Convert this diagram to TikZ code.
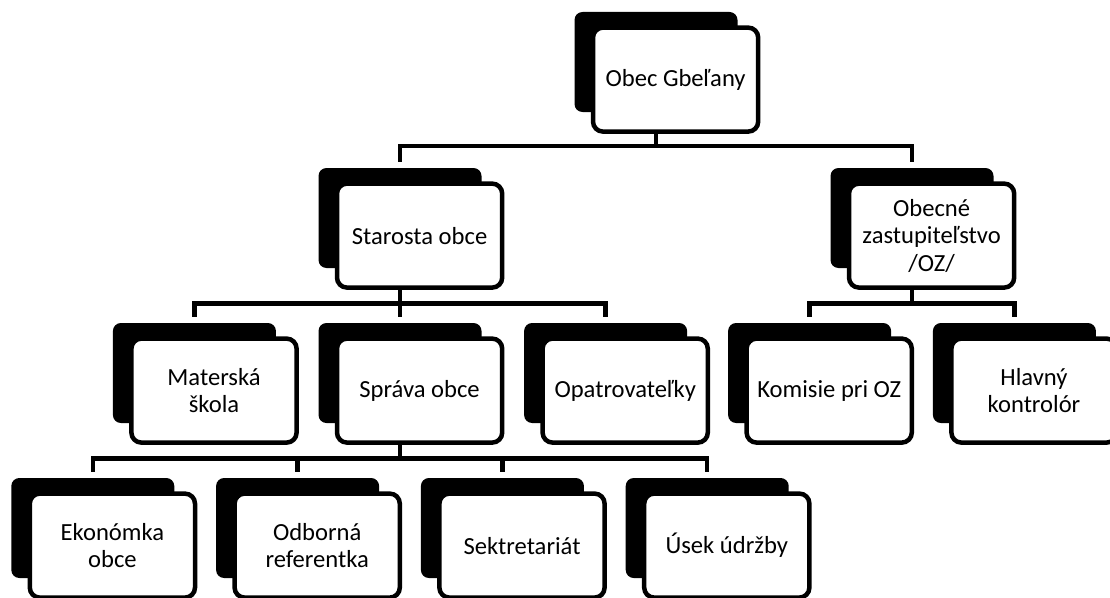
\documentclass[tikz,border=0pt]{standalone}
\usepackage{fontspec}
\setmainfont{Carlito}
\usetikzlibrary{positioning}

\begin{document}
\begin{tikzpicture}
[shd/.style={fill=black,rounded corners=0.2cm,minimum width=4.075cm,minimum height=2.5cm,inner sep=0mm,outer sep=0.15cm},
 box/.style={draw=black,fill=white,line width=3.2pt,rounded corners=0.25cm,minimum width=4.13cm,minimum height=2.6cm,
             inner sep=0mm,align=center,font=\fontsize{17.5}{19.5}\selectfont},
 conn/.style={line width=3.2pt}]
\useasboundingbox (0,0) rectangle (27.75,-14.925);
% shadows
\node[shd] (obecS) at (16.4,-1.55)                           {};
\node[shd] (staS) [on grid,below  left=3.9cm and 6.4cm of obecS]  {};
\node[shd] (ozS)  [on grid,below right=3.9cm and 6.4cm of obecS]  {};
\node[shd] (matS) [on grid,below  left=3.875cm and 5.14cm of staS] {};
\node[shd] (sprS) [on grid,below=3.875cm of staS]                {};
\node[shd] (opaS) [on grid,below right=3.875cm and 5.14cm of staS] {};
\node[shd] (komS) [on grid,below  left=3.875cm and 2.56cm of ozS]  {};
\node[shd] (hlaS) [on grid,below right=3.875cm and 2.56cm of ozS]  {};
\node[shd] (ekoS) [on grid,below  left=3.875cm and 7.68cm of sprS] {};
\node[shd] (odbS) [on grid,below  left=3.875cm and 2.56cm of sprS] {};
\node[shd] (sekS) [on grid,below right=3.875cm and 2.56cm of sprS] {};
\node[shd] (useS) [on grid,below right=3.875cm and 7.68cm of sprS] {};
% boxes
\node[box] (obec) [on grid,below right=0.44cm and 0.49cm of obecS] {Obec Gbeľany};
\node[box] (sta)  [on grid,below right=0.44cm and 0.49cm of staS]  {Starosta obce};
\node[box] (oz)   [on grid,below right=0.44cm and 0.49cm of ozS]   {Obecné\\zastupiteľstvo\\/OZ/};
\node[box] (mat)  [on grid,below right=0.44cm and 0.49cm of matS]  {Materská\\škola};
\node[box] (spr)  [on grid,below right=0.44cm and 0.49cm of sprS]  {Správa obce};
\node[box] (opa)  [on grid,below right=0.44cm and 0.49cm of opaS]  {Opatrovateľky};
\node[box] (kom)  [on grid,below right=0.44cm and 0.49cm of komS]  {Komisie pri OZ};
\node[box] (hla)  [on grid,below right=0.44cm and 0.49cm of hlaS]  {Hlavný\\kontrolór};
\node[box] (eko)  [on grid,below right=0.44cm and 0.49cm of ekoS]  {Ekonómka\\obce};
\node[box] (odb)  [on grid,below right=0.44cm and 0.49cm of odbS]  {Odborná\\referentka};
\node[box] (sek)  [on grid,below right=0.44cm and 0.49cm of sekS]  {Sektretariát};
\node[box] (use)  [on grid,below right=0.44cm and 0.49cm of useS]  {Úsek údržby};
% connectors
\draw[conn] (obecS |- obec.south) -- ++(0,-0.3) -| (staS.north);
\draw[conn] (obecS |- obec.south) -- ++(0,-0.3) -| (ozS.north);
\draw[conn] (staS |- sta.south) -- ++(0,-0.34) -| (matS.north);
\draw[conn] (staS |- sta.south) -- ++(0,-0.34) -| (sprS.north);
\draw[conn] (staS |- sta.south) -- ++(0,-0.34) -| (opaS.north);
\draw[conn] (ozS |- oz.south) -- ++(0,-0.34) -| (komS.north);
\draw[conn] (ozS |- oz.south) -- ++(0,-0.34) -| (hlaS.north);
\draw[conn] (sprS |- spr.south) -- ++(0,-0.34) -| (ekoS.north);
\draw[conn] (sprS |- spr.south) -- ++(0,-0.34) -| (odbS.north);
\draw[conn] (sprS |- spr.south) -- ++(0,-0.34) -| (sekS.north);
\draw[conn] (sprS |- spr.south) -- ++(0,-0.34) -| (useS.north);
\end{tikzpicture}
\end{document}
